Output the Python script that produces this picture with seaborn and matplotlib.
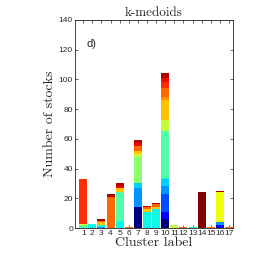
import numpy as np
import pandas as pd
import seaborn as sns
import matplotlib
matplotlib.use("Agg")
from matplotlib import pyplot as plt

clusters = list(range(1, 18))

# stocks per sector (colour band) in each cluster, bottom band first
navy        = [0, 0, 0, 0, 0, 0, 14, 0, 0, 6, 0, 0, 0, 0, 0, 0, 0]
blue        = [0, 0, 0, 0, 0, 0, 0, 0, 0, 5, 0, 0, 0, 0, 0, 2, 0]
blue2       = [0, 0, 0, 0, 0, 0, 0, 0, 0, 12, 0, 0, 0, 0, 0, 0, 0]
azure       = [0, 0, 1, 0, 0, 0, 13, 0, 0, 5, 0, 0, 0, 0, 0, 2, 0]
cyanish     = [0, 0, 0, 0, 0, 0, 3, 0, 0, 5, 0, 0, 0, 0, 0, 0, 0]
cyan        = [0, 3, 1, 0, 5, 0, 0, 11, 13, 1, 0, 0, 1, 0, 0, 0, 0]
aquamarine  = [2, 0, 0, 0, 19, 0, 0, 0, 0, 31, 0, 0, 0, 0, 0, 0, 0]
lightgreen  = [0, 0, 0, 0, 0, 0, 18, 0, 0, 0, 0, 0, 0, 0, 0, 0, 0]
yellowgreen = [0, 0, 0, 0, 0, 0, 2, 0, 0, 8, 2, 0, 0, 0, 0, 0, 0]
yellow      = [1, 0, 0, 0, 0, 0, 0, 0, 0, 0, 0, 0, 0, 0, 0, 20, 0]
gold        = [0, 0, 2, 0, 3, 0, 2, 2, 1, 13, 0, 0, 0, 0, 0, 0, 0]
lightorange = [0, 0, 0, 0, 0, 0, 0, 0, 0, 2, 0, 0, 0, 0, 0, 0, 0]
orange      = [0, 0, 1, 21, 0, 1, 3, 1, 2, 6, 0, 1, 0, 0, 1, 0, 1]
redorange   = [30, 0, 0, 0, 0, 0, 0, 0, 0, 4, 0, 0, 0, 0, 0, 0, 0]
red         = [0, 0, 0, 0, 1, 0, 2, 0, 0, 3, 0, 0, 0, 0, 0, 0, 0]
darkred     = [0, 0, 1, 2, 2, 0, 2, 1, 1, 3, 0, 0, 0, 0, 0, 1, 0]
maroon      = [0, 0, 0, 0, 0, 0, 0, 0, 0, 0, 0, 0, 0, 24, 0, 0, 0]

sectors = ["navy", "blue", "blue2", "azure", "cyanish", "cyan", "aquamarine",
           "lightgreen", "yellowgreen", "yellow", "gold", "lightorange",
           "orange", "redorange", "red", "darkred", "maroon"]
counts = [navy, blue, blue2, azure, cyanish, cyan, aquamarine, lightgreen,
          yellowgreen, yellow, gold, lightorange, orange, redorange, red,
          darkred, maroon]
jet_pos = [0.0, 0.12, 0.2, 0.27, 0.33, 0.37, 0.45, 0.52, 0.58, 0.64, 0.70,
           0.75, 0.80, 0.86, 0.90, 0.95, 1.0]

rows = []
for name, vals in zip(sectors, counts):
    for c, v in zip(clusters, vals):
        rows.append({"cluster": c, "sector": name, "n": v})
df = pd.DataFrame(rows)

jet = plt.get_cmap("jet")
palette = {name: jet(p) for name, p in zip(sectors, jet_pos)}

sns.set_style("ticks")
fig = plt.figure(figsize=(2.57, 2.56), dpi=100)
ax = fig.add_axes([0.292, 0.109, 0.615, 0.813])

# seaborn stacks the first hue level on top, so reverse the order
sns.histplot(data=df, x="cluster", weights="n", hue="sector",
             hue_order=sectors[::-1], palette=palette, multiple="stack",
             discrete=True, shrink=0.88, alpha=1, linewidth=0, legend=False,
             ax=ax)

ax.set_xlim(0.1, 17.45)
ax.set_ylim(0, 140)
ax.set_xticks(clusters)
ax.set_xticklabels([str(c) for c in clusters], fontsize=6,
                   family="Liberation Sans")
ax.set_yticks(range(0, 141, 20))
ax.set_yticklabels([str(v) for v in range(0, 141, 20)], fontsize=6,
                   family="Liberation Sans")
ax.tick_params(direction="in", length=2.5, width=0.5, pad=1.5,
               top=True, right=True)
for s in ax.spines.values():
    s.set_linewidth(0.6)
    s.set_visible(True)

ax.set_xlabel("Cluster label", family="cmr10", fontsize=10, labelpad=0)
ax.set_ylabel("Number of stocks", family="cmr10", fontsize=10, labelpad=2)
ax.set_title("k-medoids", family="cmr10", fontsize=9.5, pad=3)
ax.text(0.07, 0.87, "d)", transform=ax.transAxes, fontsize=8,
        family="Liberation Sans")

fig.savefig("out.png", dpi=100)
